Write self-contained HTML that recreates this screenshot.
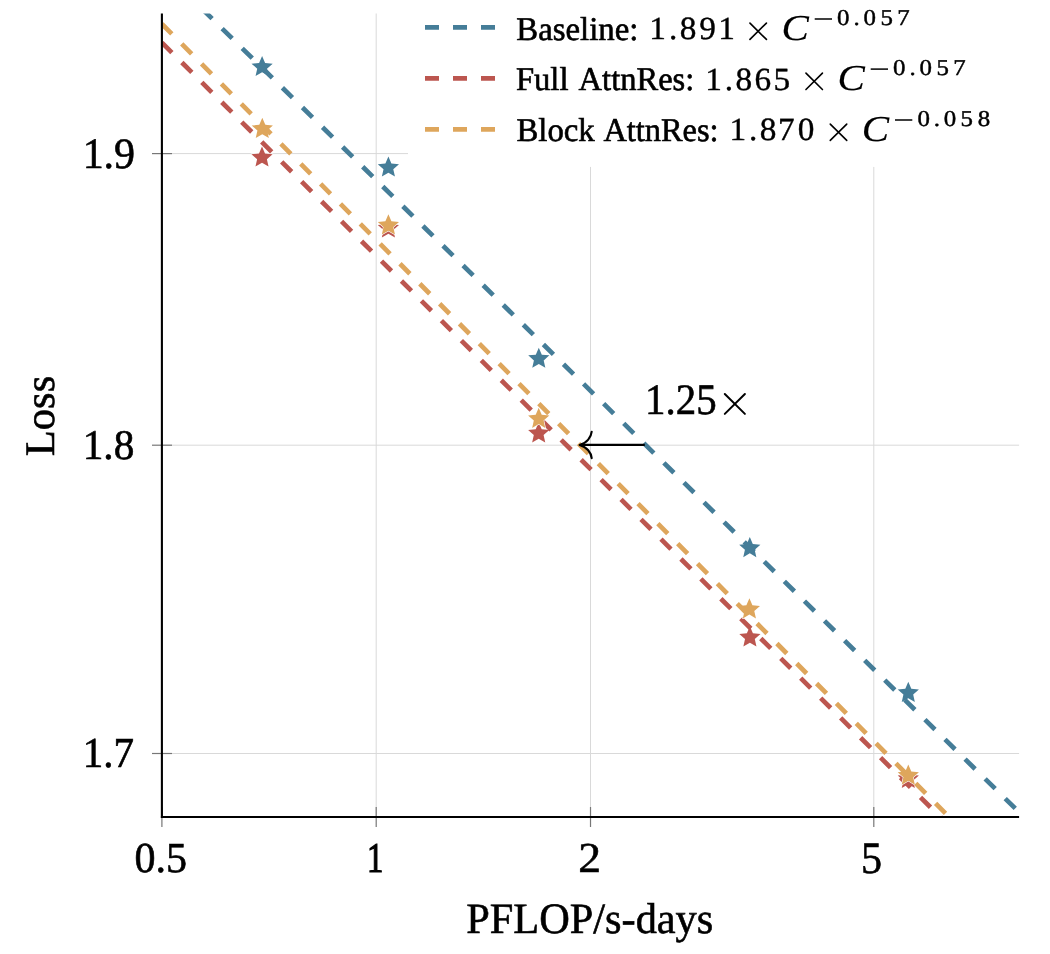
<!DOCTYPE html>
<html><head><meta charset="utf-8"><style>
html,body{margin:0;padding:0;background:#fff;}
body{width:1050px;height:954px;overflow:hidden;}
svg{display:block;will-change:transform;}
text{font-family:"Liberation Serif",serif;fill:#000;}
</style></head><body>
<svg width="1050" height="954" viewBox="0 0 1050 954" text-rendering="geometricPrecision">
<line x1="376.20" y1="13.5" x2="376.20" y2="817.0" stroke="#d9d9d9" stroke-width="1.0"/>
<line x1="590.51" y1="166.7" x2="590.51" y2="817.0" stroke="#d9d9d9" stroke-width="1.0"/>
<line x1="873.80" y1="166.7" x2="873.80" y2="817.0" stroke="#d9d9d9" stroke-width="1.0"/>
<line x1="161.9" y1="153.6" x2="408" y2="153.6" stroke="#d9d9d9" stroke-width="1.0"/>
<line x1="161.9" y1="445.2" x2="1019.1" y2="445.2" stroke="#d9d9d9" stroke-width="1.0"/>
<line x1="161.9" y1="753.5" x2="1019.1" y2="753.5" stroke="#d9d9d9" stroke-width="1.0"/>
<defs><clipPath id="c"><rect x="161.9" y="13.5" width="857.20" height="803.50"/></clipPath></defs>
<g clip-path="url(#c)">
<path d="M262.10,55.95 L265.11,62.95 L272.70,63.65 L266.98,68.68 L268.65,76.12 L262.10,72.23 L255.55,76.12 L257.22,68.68 L251.50,63.65 L259.09,62.95Z" fill="#457d98" stroke="#fff" stroke-width="1.2" paint-order="stroke" stroke-linejoin="round"/>
<path d="M388.40,156.45 L391.41,163.45 L399.00,164.15 L393.28,169.18 L394.95,176.62 L388.40,172.73 L381.85,176.62 L383.52,169.18 L377.80,164.15 L385.39,163.45Z" fill="#457d98" stroke="#fff" stroke-width="1.2" paint-order="stroke" stroke-linejoin="round"/>
<path d="M538.80,347.65 L541.81,354.65 L549.40,355.35 L543.68,360.38 L545.35,367.82 L538.80,363.93 L532.25,367.82 L533.92,360.38 L528.20,355.35 L535.79,354.65Z" fill="#457d98" stroke="#fff" stroke-width="1.2" paint-order="stroke" stroke-linejoin="round"/>
<path d="M749.80,537.05 L752.81,544.05 L760.40,544.75 L754.68,549.78 L756.35,557.22 L749.80,553.33 L743.25,557.22 L744.92,549.78 L739.20,544.75 L746.79,544.05Z" fill="#457d98" stroke="#fff" stroke-width="1.2" paint-order="stroke" stroke-linejoin="round"/>
<path d="M908.30,681.85 L911.31,688.85 L918.90,689.55 L913.18,694.58 L914.85,702.02 L908.30,698.13 L901.75,702.02 L903.42,694.58 L897.70,689.55 L905.29,688.85Z" fill="#457d98" stroke="#fff" stroke-width="1.2" paint-order="stroke" stroke-linejoin="round"/>
<line x1="161.90" y1="-30.67" x2="1030.00" y2="822.93" stroke="#457d98" stroke-width="4.7" stroke-dasharray="14.08 14.08"/>
<path d="M262.00,146.45 L265.01,153.45 L272.60,154.15 L266.88,159.18 L268.55,166.62 L262.00,162.73 L255.45,166.62 L257.12,159.18 L251.40,154.15 L258.99,153.45Z" fill="#bc564f" stroke="#fff" stroke-width="1.2" paint-order="stroke" stroke-linejoin="round"/>
<path d="M388.40,217.35 L391.41,224.35 L399.00,225.05 L393.28,230.08 L394.95,237.52 L388.40,233.63 L381.85,237.52 L383.52,230.08 L377.80,225.05 L385.39,224.35Z" fill="#bc564f" stroke="#fff" stroke-width="1.2" paint-order="stroke" stroke-linejoin="round"/>
<path d="M538.70,422.35 L541.71,429.35 L549.30,430.05 L543.58,435.08 L545.25,442.52 L538.70,438.63 L532.15,442.52 L533.82,435.08 L528.10,430.05 L535.69,429.35Z" fill="#bc564f" stroke="#fff" stroke-width="1.2" paint-order="stroke" stroke-linejoin="round"/>
<path d="M749.90,626.35 L752.91,633.35 L760.50,634.05 L754.78,639.08 L756.45,646.52 L749.90,642.63 L743.35,646.52 L745.02,639.08 L739.30,634.05 L746.89,633.35Z" fill="#bc564f" stroke="#fff" stroke-width="1.2" paint-order="stroke" stroke-linejoin="round"/>
<path d="M908.30,767.85 L911.31,774.85 L918.90,775.55 L913.18,780.58 L914.85,788.02 L908.30,784.13 L901.75,788.02 L903.42,780.58 L897.70,775.55 L905.29,774.85Z" fill="#bc564f" stroke="#fff" stroke-width="1.2" paint-order="stroke" stroke-linejoin="round"/>
<line x1="161.90" y1="42.64" x2="1030.00" y2="906.29" stroke="#bc564f" stroke-width="4.7" stroke-dasharray="14.08 14.08"/>
<path d="M262.30,117.85 L265.31,124.85 L272.90,125.55 L267.18,130.58 L268.85,138.02 L262.30,134.13 L255.75,138.02 L257.42,130.58 L251.70,125.55 L259.29,124.85Z" fill="#dea65c" stroke="#fff" stroke-width="1.2" paint-order="stroke" stroke-linejoin="round"/>
<path d="M388.40,214.35 L391.41,221.35 L399.00,222.05 L393.28,227.08 L394.95,234.52 L388.40,230.63 L381.85,234.52 L383.52,227.08 L377.80,222.05 L385.39,221.35Z" fill="#dea65c" stroke="#fff" stroke-width="1.2" paint-order="stroke" stroke-linejoin="round"/>
<path d="M538.70,407.75 L541.71,414.75 L549.30,415.45 L543.58,420.48 L545.25,427.92 L538.70,424.03 L532.15,427.92 L533.82,420.48 L528.10,415.45 L535.69,414.75Z" fill="#dea65c" stroke="#fff" stroke-width="1.2" paint-order="stroke" stroke-linejoin="round"/>
<path d="M749.40,598.25 L752.41,605.25 L760.00,605.95 L754.28,610.98 L755.95,618.42 L749.40,614.53 L742.85,618.42 L744.52,610.98 L738.80,605.95 L746.39,605.25Z" fill="#dea65c" stroke="#fff" stroke-width="1.2" paint-order="stroke" stroke-linejoin="round"/>
<path d="M908.30,764.55 L911.31,771.55 L918.90,772.25 L913.18,777.28 L914.85,784.72 L908.30,780.83 L901.75,784.72 L903.42,777.28 L897.70,772.25 L905.29,771.55Z" fill="#dea65c" stroke="#fff" stroke-width="1.2" paint-order="stroke" stroke-linejoin="round"/>
<line x1="161.90" y1="23.95" x2="1030.00" y2="898.49" stroke="#dea65c" stroke-width="4.7" stroke-dasharray="14.08 14.08"/>
</g>
<line x1="161.90" y1="807" x2="161.90" y2="827" stroke="#777" stroke-width="1.2"/>
<line x1="376.20" y1="807" x2="376.20" y2="827" stroke="#777" stroke-width="1.2"/>
<line x1="590.51" y1="807" x2="590.51" y2="827" stroke="#777" stroke-width="1.2"/>
<line x1="873.80" y1="807" x2="873.80" y2="827" stroke="#777" stroke-width="1.2"/>
<line x1="152" y1="153.6" x2="172" y2="153.6" stroke="#777" stroke-width="1.2"/>
<line x1="152" y1="445.2" x2="172" y2="445.2" stroke="#777" stroke-width="1.2"/>
<line x1="152" y1="753.5" x2="172" y2="753.5" stroke="#777" stroke-width="1.2"/>
<line x1="161.9" y1="13.5" x2="161.9" y2="818.0" stroke="#000" stroke-width="2.1"/>
<line x1="160.9" y1="817.0" x2="1019.1" y2="817.0" stroke="#000" stroke-width="2.1"/>
<rect x="408" y="0" width="642" height="166.7" fill="#fff"/>
<line x1="425" y1="27.39" x2="495" y2="27.39" stroke="#457d98" stroke-width="4.7" stroke-dasharray="14 14"/>
<line x1="425" y1="78.39" x2="495" y2="78.39" stroke="#bc564f" stroke-width="4.7" stroke-dasharray="14 14"/>
<line x1="425" y1="129.39" x2="495" y2="129.39" stroke="#dea65c" stroke-width="4.7" stroke-dasharray="14 14"/>
<line x1="644.8" y1="444.9" x2="581" y2="444.9" stroke="#000" stroke-width="2.1"/>
<path d="M591.7,431.7 C591.2,437 587,443 579.6,444.9 C587,446.8 591.2,452.8 591.7,458.1" fill="none" stroke="#000" stroke-width="2.1" stroke-linecap="round" stroke-linejoin="round"/>
<path d="M749.96,23.06 L766.44,39.44 M766.44,23.06 L749.96,39.44" stroke="#000" stroke-width="1.6" stroke-linecap="round"/>
<path d="M805.96,73.16 L822.44,89.54 M822.44,73.16 L805.96,89.54" stroke="#000" stroke-width="1.6" stroke-linecap="round"/>
<path d="M830.26,124.06 L846.74,140.44 M846.74,124.06 L830.26,140.44" stroke="#000" stroke-width="1.6" stroke-linecap="round"/>
<path d="M724.80,394.00 L744.90,413.90 M744.90,394.00 L724.80,413.90" stroke="#000" stroke-width="2.0" stroke-linecap="round"/>
<line x1="814.70" y1="19.00" x2="832.00" y2="19.00" stroke="#000" stroke-width="1.5"/>
<line x1="870.70" y1="69.10" x2="888.00" y2="69.10" stroke="#000" stroke-width="1.5"/>
<line x1="895.00" y1="120.00" x2="912.30" y2="120.00" stroke="#000" stroke-width="1.5"/>
<g font-size="100">
<text transform="matrix(0.41960 0 0 0.43395 82.629 167.749)" stroke="#000" stroke-width="1.406">1.9</text>
<text transform="matrix(0.41333 0 0 0.42206 82.683 459.467)" stroke="#000" stroke-width="1.436">1.8</text>
<text transform="matrix(0.40971 0 0 0.42667 82.715 767.460)" stroke="#000" stroke-width="1.435">1.7</text>
<text transform="matrix(0.42132 0 0 0.42647 134.420 872.160)" stroke="#000" stroke-width="1.415">0.5</text>
<text transform="matrix(0.32624 0 0 0.42197 367.095 872.300)" stroke="#000" stroke-width="2.940">1</text>
<text transform="matrix(0.45600 0 0 0.42566 578.208 872.400)" stroke="#000" stroke-width="1.361">2</text>
<text transform="matrix(0.42236 0 0 0.44812 860.971 873.052)" stroke="#000" stroke-width="1.379">5</text>
<text transform="matrix(0.40924 0 0 0.43395 645.019 414.449)" stroke="#000" stroke-width="1.423">1.25</text>
<text transform="matrix(0.42341 0 0 0.43300 466.230 932.900)" stroke="#000" stroke-width="1.401">PFLOP/s-days</text>
<text transform="matrix(0 -0.42634 0.41955 0 53.780 456.279)" stroke="#000" stroke-width="1.419">Loss</text>
<text transform="matrix(0.32798 0 0 0.33200 516.316 39.900)" stroke="#000" stroke-width="1.818">Baseline:</text>
<text transform="matrix(0.33324 0 0 0.32353 649.284 39.415)" stroke="#000" stroke-width="1.200">1</text>
<text transform="matrix(0.33324 0 0 0.32353 668.970 39.415)" stroke="#000" stroke-width="1.200">.</text>
<text transform="matrix(0.33324 0 0 0.32353 679.866 39.415)" stroke="#000" stroke-width="1.200">8</text>
<text transform="matrix(0.33324 0 0 0.32353 699.356 39.415)" stroke="#000" stroke-width="1.200">9</text>
<text transform="matrix(0.33324 0 0 0.32353 718.138 39.415)" stroke="#000" stroke-width="1.200">1</text>
<text transform="matrix(0.41048 0 0 0.36654 781.417 40.258)" font-style="italic" stroke="#000" stroke-width="0.386">C</text>
<text transform="matrix(0.24912 0 0 0.22647 837.116 25.010)" stroke="#000" stroke-width="2.007">0</text>
<text transform="matrix(0.24912 0 0 0.22647 853.478 25.010)" stroke="#000" stroke-width="2.007">.</text>
<text transform="matrix(0.24912 0 0 0.22647 863.612 25.010)" stroke="#000" stroke-width="2.007">0</text>
<text transform="matrix(0.24912 0 0 0.22647 880.427 25.010)" stroke="#000" stroke-width="2.007">5</text>
<text transform="matrix(0.24912 0 0 0.22647 897.241 25.010)" stroke="#000" stroke-width="2.007">7</text>
<text transform="matrix(0.32576 0 0 0.33200 515.923 90.000)" stroke="#000" stroke-width="1.824">Full</text>
<text transform="matrix(0.32554 0 0 0.33200 578.574 90.000)" stroke="#000" stroke-width="1.825">AttnRes:</text>
<text transform="matrix(0.33324 0 0 0.32353 705.284 89.515)" stroke="#000" stroke-width="1.200">1</text>
<text transform="matrix(0.33324 0 0 0.32353 724.788 89.515)" stroke="#000" stroke-width="1.200">.</text>
<text transform="matrix(0.33324 0 0 0.32353 735.502 89.515)" stroke="#000" stroke-width="1.200">8</text>
<text transform="matrix(0.33324 0 0 0.32353 754.424 89.515)" stroke="#000" stroke-width="1.200">6</text>
<text transform="matrix(0.33324 0 0 0.32353 773.471 89.515)" stroke="#000" stroke-width="1.200">5</text>
<text transform="matrix(0.41048 0 0 0.36654 837.417 90.358)" font-style="italic" stroke="#000" stroke-width="0.386">C</text>
<text transform="matrix(0.24912 0 0 0.22647 893.116 75.110)" stroke="#000" stroke-width="2.007">0</text>
<text transform="matrix(0.24912 0 0 0.22647 909.478 75.110)" stroke="#000" stroke-width="2.007">.</text>
<text transform="matrix(0.24912 0 0 0.22647 919.612 75.110)" stroke="#000" stroke-width="2.007">0</text>
<text transform="matrix(0.24912 0 0 0.22647 936.427 75.110)" stroke="#000" stroke-width="2.007">5</text>
<text transform="matrix(0.24912 0 0 0.22647 953.241 75.110)" stroke="#000" stroke-width="2.007">7</text>
<text transform="matrix(0.32789 0 0 0.33200 516.416 140.900)" stroke="#000" stroke-width="1.818">Block</text>
<text transform="matrix(0.32410 0 0 0.33200 603.376 140.900)" stroke="#000" stroke-width="1.829">AttnRes:</text>
<text transform="matrix(0.33324 0 0 0.32353 729.584 140.415)" stroke="#000" stroke-width="1.200">1</text>
<text transform="matrix(0.33324 0 0 0.32353 749.006 140.415)" stroke="#000" stroke-width="1.200">.</text>
<text transform="matrix(0.33324 0 0 0.32353 759.638 140.415)" stroke="#000" stroke-width="1.200">8</text>
<text transform="matrix(0.33324 0 0 0.32353 778.080 140.415)" stroke="#000" stroke-width="1.200">7</text>
<text transform="matrix(0.33324 0 0 0.32353 797.688 140.415)" stroke="#000" stroke-width="1.200">0</text>
<text transform="matrix(0.41048 0 0 0.36654 861.717 141.258)" font-style="italic" stroke="#000" stroke-width="0.386">C</text>
<text transform="matrix(0.24912 0 0 0.22647 917.416 126.010)" stroke="#000" stroke-width="2.007">0</text>
<text transform="matrix(0.24912 0 0 0.22647 933.723 126.010)" stroke="#000" stroke-width="2.007">.</text>
<text transform="matrix(0.24912 0 0 0.22647 943.803 126.010)" stroke="#000" stroke-width="2.007">0</text>
<text transform="matrix(0.24912 0 0 0.22647 960.548 126.010)" stroke="#000" stroke-width="2.007">5</text>
<text transform="matrix(0.24912 0 0 0.22647 977.728 126.010)" stroke="#000" stroke-width="2.007">8</text>
</g>
</svg>
</body></html>
